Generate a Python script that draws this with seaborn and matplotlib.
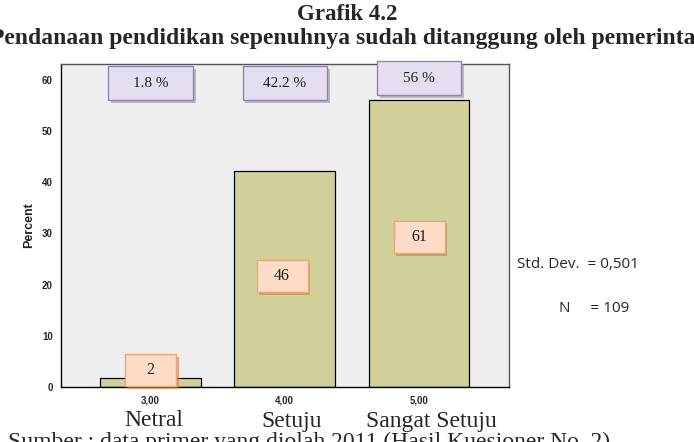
import matplotlib
matplotlib.use("Agg")
import matplotlib.pyplot as plt
import matplotlib.patheffects as pe
from matplotlib.patches import Rectangle
import seaborn as sns
import pandas as pd

# ---- data ----
codes = ["3,00", "4,00", "5,00"]
categories = ["Netral", "Setuju", "Sangat Setuju"]
percent = [1.8, 42.2, 56.0]
percent_labels = ["1.8 %", "42.2 %", "56 %"]
counts = [2, 46, 61]
yticks = [0, 10, 20, 30, 40, 50, 60]
title1 = "Grafik 4.2"
title2 = "Pendanaan pendidikan sepenuhnya sudah ditanggung oleh pemerintah"
source = "Sumber : data primer yang diolah 2011 (Hasil Kuesioner No. 2)"
stats = ["Std. Dev.  = 0,501", "N     = 109"]

df = pd.DataFrame({"code": codes, "percent": percent})

sns.set_theme(style="white")
plt.rcParams["font.family"] = ["Liberation Sans", "DejaVu Sans"]

fig = plt.figure(figsize=(6.94, 4.42), dpi=100)
ax = fig.add_axes([0.0879, 0.1244, 0.7334 - 0.0879, 0.855 - 0.1244])
ax.set_facecolor("#efefef")

sns.barplot(data=df, x="code", y="percent", order=codes, color="#d1cf9a",
            saturation=1, width=0.75, edgecolor="black", linewidth=0.9, ax=ax)

ax.set_xlim(-0.667, 2.67)
ax.set_ylim(0, 63.1)
ax.set_yticks(yticks)
ax.set_yticklabels([str(t) for t in yticks], fontsize=7, fontweight="bold")
ax.set_xticks(range(len(codes)))
ax.set_xticklabels(codes, fontsize=7, fontweight="bold")
ax.tick_params(axis="both", direction="out", length=4, width=0.8, color="black", pad=2)
ax.set_xlabel("")
ax.set_ylabel("Percent", fontsize=9, fontweight="bold")
ax.yaxis.set_label_coords(-0.058, 0.5)
for s in ax.spines.values():
    s.set_color("#555555")
    s.set_linewidth(1.0)
ax.spines["left"].set_color("black")
ax.spines["bottom"].set_color("black")

shadow = [pe.SimplePatchShadow(offset=(2, -2), shadow_rgbFace="#9a8fa8", alpha=0.6), pe.Normal()]
shadow_o = [pe.SimplePatchShadow(offset=(2, -2), shadow_rgbFace="#c08050", alpha=0.6), pe.Normal()]

# percent boxes (purple) near top
pbox_y = [59.4, 59.4, 60.35]
for i, (lab, yc) in enumerate(zip(percent_labels, pbox_y)):
    w, h = 0.63, 6.6
    r = Rectangle((i - w / 2, yc - h / 2), w, h, facecolor="#e4def0", edgecolor="#8f86b0",
                  linewidth=1.0, clip_on=False, zorder=5)
    r.set_path_effects(shadow)
    ax.add_patch(r)
    ax.text(i, yc, lab, ha="center", va="center", fontsize=11, family="Liberation Serif",
            color="#222222", zorder=6)

# count boxes (orange)
cbox = [(0.0, 3.3), (0.98, 21.7), (2.0, 29.3)]
for c, (xc, yc) in zip(counts, cbox):
    w, h = 0.38, 6.25
    r = Rectangle((xc - w / 2, yc - h / 2), w, h, facecolor="#fcdcc6", edgecolor="#eba77a",
                  linewidth=1.0, clip_on=False, zorder=5)
    r.set_path_effects(shadow_o)
    ax.add_patch(r)
    ax.text(xc, yc, str(c), ha="center", va="center", fontsize=11.5, family="Liberation Serif",
            color="#222222", zorder=6)

# titles
fig.text(0.5, 0.967, title1, ha="center", va="center", fontsize=16.5, fontweight="bold",
         family="Liberation Serif")
fig.text(0.503, 0.913, title2, ha="center", va="center", fontsize=17, fontweight="bold",
         family="Liberation Serif")

# category names under ticks
cat_x = [154 / 694, 292 / 694, 431 / 694]
for cx, name in zip(cat_x, categories):
    fig.text(cx, (442 - 421) / 442, name, ha="center", va="center", fontsize=17,
             family="Liberation Serif")

fig.text(8 / 694, -0.014, source, ha="left", va="baseline", fontsize=17,
         family="Liberation Serif")

# stats
fig.text(517 / 694, (442 - 265) / 442, stats[0], ha="left", va="center", fontsize=11,
         family="Open Sans")
fig.text(559 / 694, (442 - 308) / 442, stats[1], ha="left", va="center", fontsize=11,
         family="Open Sans")

fig.savefig("out.png", dpi=100)
